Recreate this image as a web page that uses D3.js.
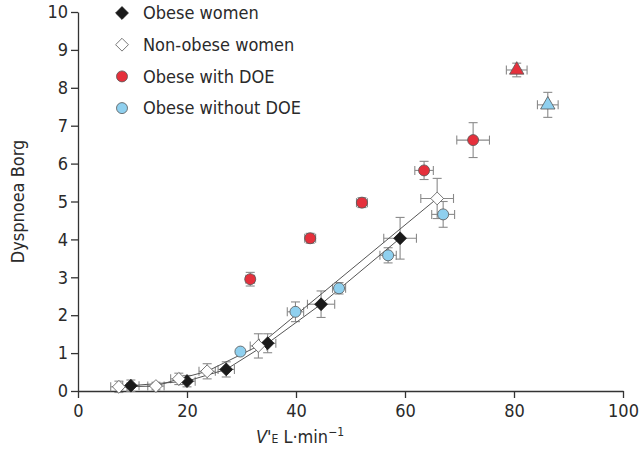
<!DOCTYPE html>
<html>
<head>
<meta charset="utf-8">
<script src="https://cdn.jsdelivr.net/npm/d3@7"></script>
<style>
  body { margin: 0; background: #fff; }
  text { font-family: "DejaVu Sans Condensed", "DejaVu Sans", sans-serif; fill: #2a2a2a; }
</style>
</head>
<body>
<div id="chart"></div>
<script>
// [x, y, xerr, yerr]
const obeseWomen = [
  [9.7, 0.14, 1.5, 0.15], [20, 0.26, 1.5, 0.15], [27.2, 0.57, 1.5, 0.2],
  [34.8, 1.26, 1.5, 0.25], [44.6, 2.29, 2.5, 0.35], [59.1, 4.03, 3, 0.55]
];
const nonObeseWomen = [
  [7.5, 0.11, 1.5, 0.15], [14.3, 0.13, 1.5, 0.1], [18.5, 0.32, 1.5, 0.15],
  [23.7, 0.52, 1.5, 0.2], [33.1, 1.19, 1.5, 0.32], [65.9, 5.08, 3, 0.53]
];
const obeseDOE = [
  [31.6, 2.95, 0.8, 0.18], [42.6, 4.03, 1, 0.13], [52.1, 4.97, 1, 0.13],
  [63.5, 5.82, 1.7, 0.24], [72.5, 6.62, 3, 0.46]
];
const obeseDOEPeak = [[80.5, 8.47, 1.9, 0.18]];
const obeseNoDOE = [
  [29.8, 1.04, 0, 0], [39.9, 2.09, 1.5, 0.26], [47.9, 2.71, 1.2, 0.15],
  [56.9, 3.58, 1.5, 0.2], [67, 4.66, 2.1, 0.34]
];
const obeseNoDOEPeak = [[86.2, 7.55, 1.9, 0.33]];
const xTicks = [0, 20, 40, 60, 80, 100];
const yTicks = [0, 1, 2, 3, 4, 5, 6, 7, 8, 9, 10];
const legendLabels = ["Obese women", "Non-obese women", "Obese with DOE", "Obese without DOE"];

const red = "#e5303c", blue = "#8fd0ef", edge = "#555", errCol = "#8a8a8a";

const width = 640, height = 450;
const margin = { left: 78, right: 17, top: 12, bottom: 59 };

const svg = d3.select("#chart").append("svg")
  .attr("width", width).attr("height", height);

const x = d3.scaleLinear().domain([0, 100]).range([margin.left, width - margin.right]);
const y = d3.scaleLinear().domain([0, 10]).range([height - margin.bottom, margin.top]);

const xAxis = svg.append("g")
  .attr("transform", `translate(0,${y(0)})`)
  .call(d3.axisBottom(x).tickValues(xTicks).tickSize(7).tickPadding(6).tickSizeOuter(0));
const yAxis = svg.append("g")
  .attr("transform", `translate(${x(0)},0)`)
  .call(d3.axisLeft(y).tickValues(yTicks).tickSize(7).tickPadding(3).tickSizeOuter(0));
[xAxis, yAxis].forEach(a => {
  a.selectAll("path, line").attr("stroke", "#333").attr("stroke-width", 1.3);
  a.selectAll("text").style("font-size", "18px").attr("fill", "#2a2a2a");
});

// axis titles
const xt = svg.append("text")
  .attr("x", 300).attr("y", 443)
  .attr("text-anchor", "middle")
  .style("font-size", "18px");
xt.append("tspan").style("font-style", "italic").text("V");
xt.append("tspan").text("'");
xt.append("tspan").style("font-size", "12px").text("E");
xt.append("tspan").text(" L·min");
xt.append("tspan").attr("dy", -7).style("font-size", "12px").text("−1");

svg.append("text")
  .attr("transform", `translate(24,${y(5)}) rotate(-90)`)
  .attr("text-anchor", "middle")
  .style("font-size", "18px")
  .text("Dyspnoea Borg");

const plot = svg.append("g");

function errorBars(data) {
  const cap = 4.5;
  data.forEach(([vx, vy, ex, ey]) => {
    const g = plot.append("g").attr("stroke", errCol).attr("stroke-width", 1.1).attr("fill", "none");
    if (ex > 0) {
      g.append("line").attr("x1", x(vx - ex)).attr("x2", x(vx + ex)).attr("y1", y(vy)).attr("y2", y(vy));
      g.append("line").attr("x1", x(vx - ex)).attr("x2", x(vx - ex)).attr("y1", y(vy) - cap).attr("y2", y(vy) + cap);
      g.append("line").attr("x1", x(vx + ex)).attr("x2", x(vx + ex)).attr("y1", y(vy) - cap).attr("y2", y(vy) + cap);
    }
    if (ey > 0) {
      g.append("line").attr("x1", x(vx)).attr("x2", x(vx)).attr("y1", y(vy - ey)).attr("y2", y(vy + ey));
      g.append("line").attr("x1", x(vx) - cap).attr("x2", x(vx) + cap).attr("y1", y(vy - ey)).attr("y2", y(vy - ey));
      g.append("line").attr("x1", x(vx) - cap).attr("x2", x(vx) + cap).attr("y1", y(vy + ey)).attr("y2", y(vy + ey));
    }
  });
}

[obeseWomen, nonObeseWomen, obeseDOE, obeseDOEPeak, obeseNoDOE, obeseNoDOEPeak].forEach(errorBars);

const line = d3.line().x(d => x(d[0])).y(d => y(d[1]));
[obeseWomen, nonObeseWomen].forEach(s => {
  plot.append("path").attr("d", line(s))
    .attr("fill", "none").attr("stroke", "#555").attr("stroke-width", 1);
});

const diamond = d3.symbol().type(d3.symbolDiamond2).size(105);
const circle = d3.symbol().type(d3.symbolCircle).size(95);
const triangle = d3.symbol().type(d3.symbolTriangle).size(90);

function markers(data, sym, fill, stroke) {
  plot.selectAll(null).data(data).enter().append("path")
    .attr("d", sym)
    .attr("transform", d => `translate(${x(d[0])},${y(d[1])})`)
    .attr("fill", fill).attr("stroke", stroke).attr("stroke-width", 0.8);
}

markers(obeseWomen, diamond, "#1a1a1a", "#1a1a1a");
markers(nonObeseWomen, diamond, "#fff", "#555");
markers(obeseDOE, circle, red, edge);
markers(obeseDOEPeak, triangle, red, edge);
markers(obeseNoDOE, circle, blue, edge);
markers(obeseNoDOEPeak, triangle, blue, edge);

// legend
const legendSyms = [
  [diamond, "#1a1a1a", "#1a1a1a"], [diamond, "#fff", "#555"],
  [circle, red, edge], [circle, blue, edge]
];
const leg = svg.append("g").attr("transform", "translate(122,13)");
legendLabels.forEach((lab, i) => {
  const s = legendSyms[i];
  leg.append("path").attr("d", s[0]).attr("transform", `translate(0,${i * 31.7})`)
    .attr("fill", s[1]).attr("stroke", s[2]).attr("stroke-width", 0.8);
  leg.append("text").attr("x", 21).attr("y", i * 31.7).attr("dy", "0.35em")
    .style("font-size", "18px").text(lab);
});
</script>
</body>
</html>
